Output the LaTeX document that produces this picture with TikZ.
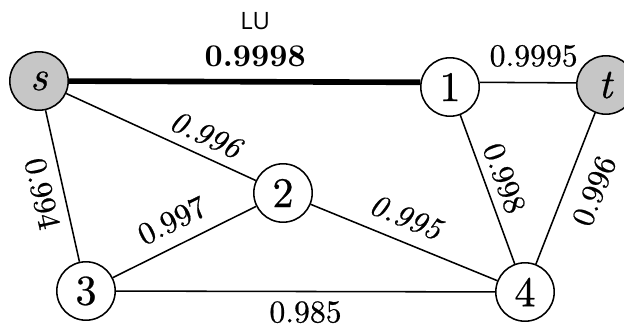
\documentclass[tikz,border=0pt]{standalone}
\usepackage{fontspec}
\setmainfont{lmroman10-regular.otf}[BoldFont=lmroman10-bold.otf, ItalicFont=lmroman10-italic.otf, UprightFeatures={FakeBold=0.6}, ItalicFeatures={FakeBold=0.6}]
\newfontfamily\lufont{Open Sans}
\usetikzlibrary{positioning}

\begin{document}
\begin{tikzpicture}[
    x=0.025cm, y=-0.025cm,
    vertex/.style={circle, draw, fill=white, line width=1.1pt, minimum size=1.46cm, inner sep=0pt, font=\fontsize{30}{34}\selectfont},
    terminal/.style={vertex, fill=gray!45},
    link/.style={line width=1.1pt},
    best/.style={line width=4pt},
    weight/.style={font=\fontsize{22.5}{26}\selectfont, inner sep=0pt},
    iweight/.style={weight, font=\fontsize{22.5}{26}\selectfont\itshape},
    bweight/.style={weight, font=\fontsize{22.5}{26}\selectfont\bfseries}
]
\useasboundingbox (0,0) rectangle (624,326);

\node[terminal] (s) at (39,81) {\textit{s}};
\node[vertex] (n1) at (450,87) {1};
\node[terminal] (t) at (606,85) {\textit{t}};
\node[vertex] (n2) at (283,193) {2};
\node[vertex] (n3) at (86,291) {3};
\node[vertex] (n4) at (525,292) {4};

\draw[best] (s) -- (n1.171) node[pos=0.53, above=8.5pt, bweight] (w) {0.9998};
\node[above=9.5pt of w, font=\lufont\fontsize{17}{20}\selectfont, inner sep=0pt] (lu) {LU};

\draw[link] (n1.9) -- (t.176) node[pos=0.56, above=10.7pt, weight] {0.9995};
\draw[link] (s) -- (n2) node[pos=0.69, sloped, above=6.5pt, iweight] {0.996};
\draw[link] (s) -- (n3) node[pos=0.52, sloped, below=6.8pt, weight] {0.994};
\draw[link] (n3) -- (n2) node[pos=0.49, sloped, above=9.2pt, weight] {0.997};
\draw[link] (n2) -- (n4) node[pos=0.46, sloped, above=8.9pt, iweight] {0.995};
\draw[link] (n1) -- (n4) node[pos=0.47, sloped, above=5.7pt, weight] {0.998};
\draw[link] (n4) -- (t) node[pos=0.55, sloped, below=11.4pt, weight] {0.996};
\draw[link] (n3) -- (n4) node[pos=0.5, below=6.4pt, weight] {0.985};
\end{tikzpicture}
\end{document}
